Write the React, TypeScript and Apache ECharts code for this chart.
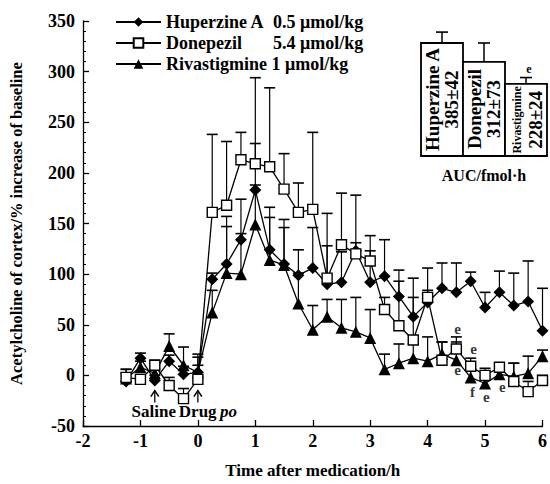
import React, { useEffect, useRef } from 'react';
import * as echarts from 'echarts';

const times = [-1.25, -1, -0.75, -0.5, -0.25, 0, 0.25, 0.5, 0.75, 1, 1.25, 1.5, 1.75, 2, 2.25, 2.5, 2.75, 3, 3.25, 3.5, 3.75, 4, 4.25, 4.5, 4.75, 5, 5.25, 5.5, 5.75, 6];

const huperzine = [-6, 17, -5, 14, 1, 3, 95, 110, 134, 183, 124, 110, 99, 106, 90, 92, 123, 92, 98, 78, 58, 72, 86, 82, 93, 67, 82, 69, 73, 44];
const huperzineErr = [12, 5, 5, 6, 8, 18, 6, 47, 40, 46, 42, 44, 25, 40, 38, 30, 8, 31, 36, 26, 38, 34, 25, 29, 9, 15, 21, 32, 40, 42];

const donepezil = [-2, -4, 10, -10, -23, -4, 161, 168, 213, 209, 206, 184, 161, 164, 96, 129, 120, 113, 65, 49, 35, 77, 15, 26, 9, 0, 8, -6, -16, -5];
const donepezilErr = [8, 4, 5, 8, 10, 14, 77, 63, 27, 85, 78, 35, 29, 76, 64, 51, 58, 25, 12, 44, 42, 7, 18, 12, 8, 7, 4, 18, 10, 5];

const rivastigmine = [-3, 8, 2, 29, 10, 3, 62, 101, 100, 149, 114, 109, 71, 45, 58, 47, 43, 37, 6, 12, 17, 14, 21, 15, -2, -8, 1, -1, 2, 19];
const rivastigmineErr = [5, 6, 4, 12, 18, 15, 22, 46, 40, 39, 42, 37, 30, 24, 17, 28, 34, 28, 15, 19, 14, 24, 12, 18, 8, 6, 11, 13, 17, 6];

const seriesNames = ['Huperzine A', 'Donepezil', 'Rivastigmine'];
const doses = ['0.5 μmol/kg', '5.4 μmol/kg', '1 μmol/kg'];

const sigT = [4.52, 4.8, 4.52, 4.78, 5.02, 5.3];
const sigV = [46, 26, 5, -16, -21, -11];
const sigText = ['e', 'e', 'e', 'f', 'e', 'e'];

const aucNames = ['Huperzine A', 'Donepezil', 'Rivastigmine'];
const aucValues = [385, 312, 228];
const aucErr = [42, 73, 24];
const aucSig = ['', '', 'e'];

const xTicks = [-2, -1, 0, 1, 2, 3, 4, 5, 6];

const FONT = "'Liberation Serif', 'Times New Roman', serif";

function errSeries(id: string, vals: number[], errs: number[]) {
  return {
    type: 'custom',
    id,
    silent: true,
    z: 1,
    xAxisIndex: 0,
    yAxisIndex: 0,
    data: times.map((t, i) => [t, vals[i], vals[i] + errs[i]]),
    renderItem: (params: any, api: any) => {
      const p0 = api.coord([api.value(0), api.value(1)]);
      const p1 = api.coord([api.value(0), api.value(2)]);
      return {
        type: 'group',
        children: [
          { type: 'line', shape: { x1: p0[0], y1: p0[1], x2: p1[0], y2: p1[1] }, style: { stroke: '#000', lineWidth: 1.2 } },
          { type: 'line', shape: { x1: p1[0] - 5.5, y1: p1[1], x2: p1[0] + 5.5, y2: p1[1] }, style: { stroke: '#000', lineWidth: 1.6 } },
        ],
      };
    },
  };
}

export default function App() {
  const ref = useRef<HTMLDivElement>(null);
  useEffect(() => {
    document.body.style.margin = '0';
    if (!ref.current) return;
    const chart = echarts.init(ref.current, null, { renderer: 'svg' });
    const lineBase = {
      type: 'line',
      xAxisIndex: 0,
      yAxisIndex: 0,
      z: 3,
      lineStyle: { color: '#000', width: 1.3 },
      symbolKeepAspect: true,
    };
    const option: any = {
      animation: false,
      backgroundColor: '#fff',
      textStyle: { fontFamily: FONT },
      grid: [
        { left: 80, right: 4, top: 21, bottom: 56 },
        { left: 421, right: 3, top: 43, bottom: 328 },
      ],
      legend: {
        data: seriesNames,
        orient: 'vertical',
        left: 110,
        top: 8,
        itemWidth: 45,
        itemHeight: 12,
        itemGap: 3,
        textStyle: {
          fontFamily: FONT,
          fontWeight: 'bold',
          fontSize: 18,
          color: '#000',
          rich: {
            n: { fontFamily: FONT, fontWeight: 'bold', fontSize: 18, width: 107, color: '#000' },
            d: { fontFamily: FONT, fontWeight: 'bold', fontSize: 18, color: '#000' },
            m: { fontFamily: FONT, fontWeight: 'bold', fontSize: 18, color: '#000' },
          },
        },
        formatter: (name: string) => {
          const i = seriesNames.indexOf(name);
          if (i === 2) return `{m|${name} ${doses[i]}}`;
          return `{n|${name}}{d|${doses[i]}}`;
        },
      },
      xAxis: [
        {
          type: 'value',
          gridIndex: 0,
          min: -2,
          max: 6,
          interval: 1,
          name: 'Time after medication/h',
          nameLocation: 'middle',
          nameGap: 36,
          nameTextStyle: { fontFamily: FONT, fontWeight: 'bold', fontSize: 17, color: '#000' },
          axisLine: { show: true, onZero: false, lineStyle: { color: '#000', width: 1.3 } },
          axisTick: { show: true, inside: true, length: 6, lineStyle: { color: '#000', width: 1.3 } },
          axisLabel: {
            fontFamily: FONT, fontWeight: 'bold', fontSize: 18, color: '#000', margin: 6,
            formatter: (v: number) => (xTicks.includes(v) ? String(v) : ''),
          },
          splitLine: { show: false },
        },
        {
          type: 'category',
          gridIndex: 1,
          data: aucNames,
          name: 'AUC/fmol·h',
          nameLocation: 'middle',
          nameGap: 11,
          nameTextStyle: { fontFamily: FONT, fontWeight: 'bold', fontSize: 16, color: '#000' },
          axisLine: { show: true, lineStyle: { color: '#000', width: 1.3 } },
          axisTick: { show: false },
          axisLabel: { show: false },
        },
      ],
      yAxis: [
        {
          type: 'value',
          gridIndex: 0,
          min: -50,
          max: 350,
          interval: 50,
          name: 'Acetylcholine of cortex/% increase of baseline',
          nameLocation: 'middle',
          nameGap: 58,
          nameTextStyle: { fontFamily: FONT, fontWeight: 'bold', fontSize: 16.5, color: '#000' },
          axisLine: { show: true, onZero: false, lineStyle: { color: '#000', width: 1.3 } },
          axisTick: { show: true, inside: true, length: 6, lineStyle: { color: '#000', width: 1.3 } },
          minorTick: { show: true, splitNumber: 5, length: 3, lineStyle: { color: '#000', width: 1 } },
          axisLabel: { fontFamily: FONT, fontWeight: 'bold', fontSize: 18, color: '#000', margin: 8 },
          splitLine: { show: false },
        },
        {
          type: 'value',
          gridIndex: 1,
          min: -50,
          max: 385,
          interval: 50,
          axisLine: { show: true, lineStyle: { color: '#000', width: 1.3 } },
          axisTick: { show: true, inside: true, length: 3, lineStyle: { color: '#000', width: 1 } },
          axisLabel: { show: false },
          splitLine: { show: false },
        },
      ],
      series: [
        errSeries('errH', huperzine, huperzineErr),
        errSeries('errD', donepezil, donepezilErr),
        errSeries('errR', rivastigmine, rivastigmineErr),
        {
          ...lineBase,
          name: seriesNames[0],
          data: times.map((t, i) => [t, huperzine[i]]),
          symbol: 'diamond',
          symbolSize: 12,
          itemStyle: { color: '#000', borderColor: '#000', borderWidth: 0 },
        },
        {
          ...lineBase,
          name: seriesNames[1],
          data: times.map((t, i) => [t, donepezil[i]]),
          symbol: 'rect',
          symbolSize: 10,
          z: 4,
          itemStyle: { color: '#fff', borderColor: '#000', borderWidth: 1.4 },
        },
        {
          ...lineBase,
          name: seriesNames[2],
          data: times.map((t, i) => [t, rivastigmine[i]]),
          symbol: 'triangle',
          symbolSize: 12,
          itemStyle: { color: '#000', borderColor: '#000', borderWidth: 0 },
        },
        {
          type: 'scatter',
          id: 'sig',
          xAxisIndex: 0,
          yAxisIndex: 0,
          symbolSize: 0,
          silent: true,
          z: 5,
          data: sigT.map((t, i) => ({ value: [t, sigV[i]], name: sigText[i] })),
          label: {
            show: true,
            position: 'inside',
            formatter: (p: any) => p.name,
            fontFamily: FONT,
            fontWeight: 'bold',
            fontSize: 15,
            color: '#000',
          },
        },
        {
          type: 'custom',
          id: 'arrows',
          xAxisIndex: 0,
          yAxisIndex: 0,
          silent: true,
          z: 5,
          data: [[-0.75, -15], [0, -15]],
          renderItem: (params: any, api: any) => {
            const p = api.coord([api.value(0), api.value(1)]);
            const x = p[0];
            const y = p[1];
            const isDrug = params.dataIndex === 1;
            return {
              type: 'group',
              children: [
                { type: 'line', shape: { x1: x, y1: y + 1, x2: x, y2: y + 12 }, style: { stroke: '#000', lineWidth: 1.3 } },
                { type: 'polyline', shape: { points: [[x - 4, y + 6], [x, y], [x + 4, y + 6]] }, style: { stroke: '#000', lineWidth: 1.5, fill: 'none' } },
                {
                  type: 'text',
                  x: isDrug ? x + 10 : x - 1,
                  y: y + 21,
                  style: {
                    text: isDrug ? '{b|Drug} {i|po}' : '{b|Saline}',
                    align: 'center',
                    verticalAlign: 'middle',
                    rich: {
                      b: { fontFamily: FONT, fontWeight: 'bold', fontSize: 17, fill: '#000' },
                      i: { fontFamily: FONT, fontStyle: 'italic', fontWeight: 'bold', fontSize: 17, fill: '#000' },
                    },
                  },
                },
              ],
            };
          },
        },
        {
          type: 'custom',
          id: 'aucBars',
          xAxisIndex: 1,
          yAxisIndex: 1,
          silent: true,
          z: 2,
          clip: false,
          data: aucValues.map((v, i) => [i, v]),
          renderItem: (params: any, api: any) => {
            const i = params.dataIndex;
            const top = api.coord([api.value(0), api.value(1)]);
            const band = api.size([1, 0])[0];
            const cs = params.coordSys;
            const yBot = cs.y + cs.height;
            const x0 = top[0] - band / 2;
            const nameTag = i === 2 ? 's' : 'v';
            return {
              type: 'group',
              children: [
                {
                  type: 'rect',
                  shape: { x: x0, y: top[1], width: band, height: yBot - top[1] },
                  style: { fill: '#fff', stroke: '#000', lineWidth: 1.8 },
                },
                {
                  type: 'text',
                  x: top[0],
                  y: (top[1] + yBot) / 2,
                  rotation: Math.PI / 2,
                  style: {
                    text: `{${nameTag}|${aucNames[i]}}\n{v|${aucValues[i]}±${aucErr[i]}}`,
                    align: 'center',
                    verticalAlign: 'middle',
                    rich: {
                      v: { fontFamily: FONT, fontWeight: 'bold', fontSize: 19, fill: '#000', lineHeight: 19 },
                      s: { fontFamily: FONT, fontWeight: 'bold', fontSize: 12, fill: '#000', lineHeight: 19 },
                    },
                  },
                },
              ],
            };
          },
        },
        {
          type: 'custom',
          id: 'aucErr',
          xAxisIndex: 1,
          yAxisIndex: 1,
          silent: true,
          z: 1,
          clip: false,
          data: aucValues.map((v, i) => [i, v, v + aucErr[i]]),
          renderItem: (params: any, api: any) => {
            const p0 = api.coord([api.value(0), api.value(1)]);
            const p1 = api.coord([api.value(0), api.value(2)]);
            const sig = aucSig[params.dataIndex];
            const children: any[] = [
              { type: 'line', shape: { x1: p0[0], y1: p0[1], x2: p1[0], y2: p1[1] }, style: { stroke: '#000', lineWidth: 1.5 } },
              { type: 'line', shape: { x1: p1[0] - 6, y1: p1[1], x2: p1[0] + 6, y2: p1[1] }, style: { stroke: '#000', lineWidth: 1.6 } },
            ];
            if (sig) {
              children.push({
                type: 'text',
                x: p1[0] + 3,
                y: p1[1] - 9,
                style: { text: sig, align: 'center', verticalAlign: 'middle', fontFamily: FONT, fontWeight: 'bold', fontSize: 12, fill: '#000' },
              });
            }
            return { type: 'group', children };
          },
        },
      ],
    };
    chart.setOption(option);
    return () => chart.dispose();
  }, []);
  return <div ref={ref} style={{ width: 550, height: 484 }} />;
}
